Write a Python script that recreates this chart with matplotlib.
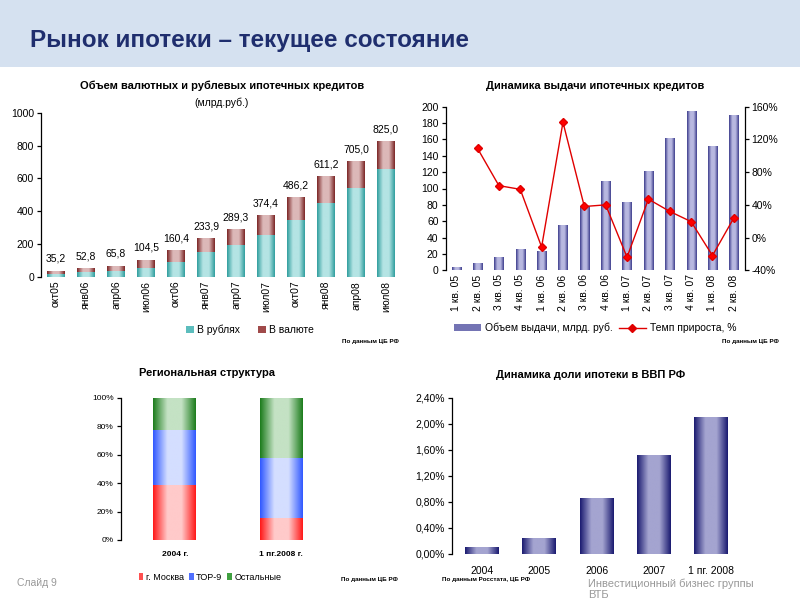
import numpy as np
import matplotlib
matplotlib.use('Agg')
import matplotlib.pyplot as plt
from matplotlib.colors import LinearSegmentedColormap
from matplotlib.patches import Rectangle, Patch
from matplotlib.lines import Line2D
from matplotlib import font_manager

# ---------------- data ----------------
months = ['окт05', 'янв06', 'апр06', 'июл06', 'окт06', 'янв07', 'апр07',
          'июл07', 'окт07', 'янв08', 'апр08', 'июл08']
totals = [35.2, 52.8, 65.8, 104.5, 160.4, 233.9, 289.3, 374.4, 486.2, 611.2, 705.0, 825.0]
rub = [16, 30, 37, 55, 91, 148, 193, 256, 348, 451, 543, 659]
cur = [t - r for t, r in zip(totals, rub)]

quarters = ['1 кв. 05', '2 кв. 05', '3 кв. 05', '4 кв. 05', '1 кв. 06', '2 кв. 06',
            '3 кв. 06', '4 кв. 06', '1 кв. 07', '2 кв. 07', '3 кв. 07', '4 кв. 07',
            '1 кв. 08', '2 кв. 08']
volume = [4, 9, 16, 26, 24, 55, 79, 109, 83, 122, 162, 195, 152, 190]
growth = [np.nan, 109, 63.5, 59, -11.5, 141, 38, 40, -24, 47, 32, 19.5, -22, 24]

regions_cat = ['2004 г.', '1 пг.2008 г.']
moscow = [39, 15.3]
top9 = [38.7, 42.7]
others = [22.3, 42.0]

gdp_years = ['2004', '2005', '2006', '2007', '1 пг. 2008']
gdp_share = [0.10, 0.24, 0.86, 1.52, 2.10]

# ---------------- helpers ----------------
SANS = ['Liberation Sans', 'DejaVu Sans']
plt.rcParams['font.family'] = SANS

installed = {f.name for f in font_manager.fontManager.ttflist}
if 'Liberation Sans Narrow' in installed:
    TITLE_FAMILY, TITLE_SIZE = ['Liberation Sans Narrow', 'Liberation Sans'], 21
elif 'DejaVu Sans Condensed' in installed:
    TITLE_FAMILY, TITLE_SIZE = ['DejaVu Sans Condensed', 'Liberation Sans'], 17
else:
    TITLE_FAMILY, TITLE_SIZE = ['Liberation Sans', 'DejaVu Sans'], 17.5

W, H = 800, 600
def fx(px): return px / W
def fy(py): return 1 - py / H


def grad_bars(ax, bars, edge, center, zorder=3):
    cmap = LinearSegmentedColormap.from_list('g', [edge, center, center, edge], N=256)
    g = np.linspace(0, 1, 128)[None, :]
    for b in bars:
        x0, y0 = b.get_x(), b.get_y()
        w, h = b.get_width(), b.get_height()
        if h == 0:
            continue
        im = ax.imshow(g, cmap=cmap, extent=[x0, x0 + w, y0, y0 + h],
                       aspect='auto', zorder=zorder, interpolation='bilinear')
        im.set_clip_path(b)


def style_left(ax):
    for s in ['top', 'right', 'bottom']:
        ax.spines[s].set_visible(False)
    ax.spines['left'].set_color('black')
    ax.spines['left'].set_linewidth(0.9)
    ax.tick_params(axis='y', direction='out', length=3, width=0.9, pad=2)
    ax.tick_params(axis='x', length=0, pad=3)


fig = plt.figure(figsize=(8, 6), dpi=100)
fig.patches.append(Rectangle((0, fy(67)), 1, 67 / H, transform=fig.transFigure,
                             facecolor='#d5e1f0', edgecolor='none', zorder=0))
fig.text(fx(30), fy(41), 'Рынок ипотеки – текущее состояние', fontsize=TITLE_SIZE,
         fontweight='bold', color='#1f2e6e', va='center', ha='left', family=TITLE_FAMILY)

# ---------------- chart 1 ----------------
ax1 = fig.add_axes([fx(41), fy(276.7), fx(360), 164 / H])
x1 = np.arange(len(months))
b_rub = ax1.bar(x1, rub, width=0.6, color='#3aa8a8', zorder=2)
b_cur = ax1.bar(x1, cur, bottom=rub, width=0.6, color='#8a3030', zorder=2)
grad_bars(ax1, b_rub, '#2f9e9e', '#b4e4e4')
grad_bars(ax1, b_cur, '#7a2424', '#dcb8b8')
for i, t in enumerate(totals):
    ax1.annotate(f'{t:.1f}'.replace('.', ','), (i, t), xytext=(0, 5),
                 textcoords='offset points', ha='center', va='bottom', fontsize=7.5)
ax1.set_xlim(-0.5, len(months) - 0.5)
ax1.set_ylim(0, 1000)
ax1.set_yticks(range(0, 1001, 200))
ax1.set_xticks(x1)
ax1.set_xticklabels(months, rotation=90, fontsize=7.5)
ax1.tick_params(axis='y', labelsize=7.5)
style_left(ax1)
fig.text(fx(222), fy(86), 'Объем валютных и рублевых ипотечных кредитов', ha='center',
         va='center', fontsize=8, fontweight='bold')
fig.text(fx(222), fy(103), '(млрд.руб.)', ha='center', va='center', fontsize=7.5)
fig.legend([Patch(facecolor='#5cbdbd'), Patch(facecolor='#a04a4a')], ['В рублях', 'В валюте'],
           loc='center', bbox_to_anchor=(fx(250), fy(330)), ncol=2, frameon=False,
           fontsize=7.5, handlelength=0.7, handleheight=0.7, handletextpad=0.3,
           columnspacing=1.8)
fig.text(fx(370), fy(341), 'По данным ЦБ РФ', ha='center', va='center', fontsize=4.5,
         fontweight='bold')

# ---------------- chart 2 ----------------
ax2 = fig.add_axes([fx(445.5), fy(270.3), fx(299), 163.6 / H])
x2 = np.arange(len(quarters))
b_vol = ax2.bar(x2, volume, width=0.43, color='#5a5aa0', zorder=2)
grad_bars(ax2, b_vol, '#3c3c8c', '#b8b8e0')
ax2.set_xlim(-0.5, len(quarters) - 0.5)
ax2.set_ylim(0, 200)
ax2.set_yticks(range(0, 201, 20))
ax2.set_xticks(x2)
ax2.set_xticklabels(quarters, rotation=90, fontsize=7.5)
ax2.tick_params(axis='y', labelsize=7.5)
style_left(ax2)
ax2r = ax2.twinx()
ax2r.plot(x2, growth, color='#e00000', lw=1, marker='D', markersize=4,
          markerfacecolor='#ff0000', markeredgecolor='#e00000', zorder=5)
ax2r.set_ylim(-40, 160)
ax2r.set_yticks(range(-40, 161, 40))
ax2r.set_yticklabels([f'{v}%' for v in range(-40, 161, 40)], fontsize=7.5)
for s in ['top', 'left', 'bottom']:
    ax2r.spines[s].set_visible(False)
ax2r.spines['right'].set_linewidth(0.9)
ax2r.tick_params(axis='y', direction='out', length=3, width=0.9, pad=2)
fig.text(fx(595), fy(86), 'Динамика выдачи ипотечных кредитов', ha='center',
         va='center', fontsize=8, fontweight='bold')
fig.legend([Patch(facecolor='#7474b4'),
            Line2D([], [], color='#e00000', lw=1, marker='D', markersize=4)],
           ['Объем выдачи, млрд. руб.', 'Темп прироста, %'],
           loc='center', bbox_to_anchor=(fx(595), fy(328)), ncol=2, frameon=False,
           fontsize=7.5, handlelength=2.6, handleheight=0.6, handletextpad=0.4,
           columnspacing=0.6)
fig.text(fx(750), fy(341), 'По данным ЦБ РФ', ha='center', va='center', fontsize=4.5,
         fontweight='bold')

# ---------------- chart 3 ----------------
ax3 = fig.add_axes([fx(120.5), fy(540), fx(215), 142 / H])
x3 = np.arange(len(regions_cat))
bm = ax3.bar(x3, moscow, width=0.4, color='#ff3030', zorder=2)
bt = ax3.bar(x3, top9, bottom=moscow, width=0.4, color='#4060ff', zorder=2)
bo = ax3.bar(x3, others, bottom=[m + t for m, t in zip(moscow, top9)], width=0.4,
             color='#208020', zorder=2)
grad_bars(ax3, bm, '#ff1818', '#ffcaca')
grad_bars(ax3, bt, '#3058ff', '#d4deff')
grad_bars(ax3, bo, '#1c7c1c', '#c4e2c4')
ax3.set_xlim(-0.51, 1.51)
ax3.set_ylim(0, 100)
ax3.set_yticks(range(0, 101, 20))
ax3.set_yticklabels([f'{v}%' for v in range(0, 101, 20)], fontsize=6)
ax3.set_xticks(x3)
ax3.set_xticklabels(regions_cat, fontsize=6, fontweight='bold')
style_left(ax3)
ax3.tick_params(axis='x', pad=8)
fig.text(fx(207), fy(373), 'Региональная структура', ha='center', va='center',
         fontsize=8, fontweight='bold')
fig.legend([Patch(facecolor='#ff5050'), Patch(facecolor='#5070ff'), Patch(facecolor='#40a040')],
           ['г. Москва', 'TOP-9', 'Остальные'],
           loc='center', bbox_to_anchor=(fx(210), fy(577)), ncol=3, frameon=False,
           fontsize=6.5, handlelength=0.5, handleheight=0.7, handletextpad=0.25,
           columnspacing=0.6)
fig.text(fx(369), fy(580), 'По данным ЦБ РФ', ha='center', va='center', fontsize=4.5,
         fontweight='bold')

# ---------------- chart 4 ----------------
ax4 = fig.add_axes([fx(451.7), fy(553.7), fx(290), 156 / H])
x4 = np.arange(len(gdp_years))
bg = ax4.bar(x4, gdp_share, width=0.59, color='#2a2a80', zorder=2)
grad_bars(ax4, bg, '#1a1a70', '#a4a4d0')
ax4.set_xlim(-0.53, len(gdp_years) - 0.47)
ax4.set_ylim(0, 2.4)
ticks4 = [0, 0.4, 0.8, 1.2, 1.6, 2.0, 2.4]
ax4.set_yticks(ticks4)
ax4.set_yticklabels([f'{v:.2f}%'.replace('.', ',') for v in ticks4], fontsize=7.5)
ax4.set_xticks(x4)
ax4.set_xticklabels(gdp_years, fontsize=7.5)
style_left(ax4)
ax4.tick_params(axis='x', pad=9)
fig.text(fx(591), fy(375), 'Динамика доли ипотеки в ВВП РФ', ha='center', va='center',
         fontsize=8, fontweight='bold')
fig.text(fx(486), fy(580), 'По данным Росстата, ЦБ РФ', ha='center', va='center',
         fontsize=4.5, fontweight='bold')

# ---------------- footer ----------------
fig.text(fx(17), fy(583), 'Слайд 9', ha='left', va='center', fontsize=7.5, color='#999999')
fig.text(fx(588), fy(579), 'Инвестиционный бизнес группы\nВТБ', ha='left', va='top',
         fontsize=8, color='#999999', linespacing=1.1)

fig.savefig('out.png', dpi=100)
